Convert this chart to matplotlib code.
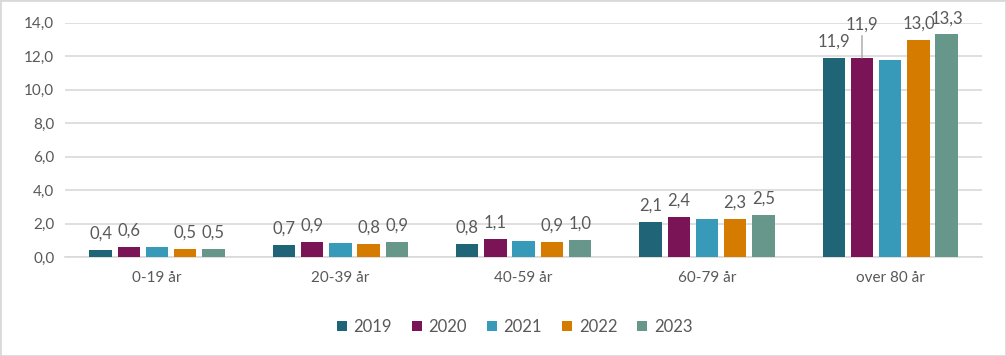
import numpy as np
import matplotlib.pyplot as plt

plt.rcParams['font.family'] = ['Lato', 'DejaVu Sans']

categories = ['0-19 år', '20-39 år', '40-59 år', '60-79 år', 'over 80 år']
years = ['2019', '2020', '2021', '2022', '2023']
values = {
    '2019': [0.4, 0.7, 0.8, 2.1, 11.9],
    '2020': [0.6, 0.9, 1.1, 2.4, 11.9],
    '2021': [0.6, 0.85, 0.95, 2.3, 11.75],
    '2022': [0.5, 0.8, 0.9, 2.3, 13.0],
    '2023': [0.5, 0.9, 1.0, 2.5, 13.3],
}
labelled = ['2019', '2020', '2022', '2023']
colors = ['#1F6477', '#7A1456', '#379AB9', '#D47B00', '#67978A']
text_color = '#595959'

fig = plt.figure(figsize=(10.06, 3.56), dpi=100)
fig.patches.append(plt.Rectangle((0, 0), 1, 1, transform=fig.transFigure,
                                 fill=False, edgecolor='#D9D9D9', linewidth=2))
ax = fig.add_axes([0.065, 0.278, 0.911, 0.658])

x = np.arange(len(categories))
step = 0.154
width = 0.122
for i, yr in enumerate(years):
    pos = x + (i - 2) * step
    bars = ax.bar(pos, values[yr], width, color=colors[i], label=yr, zorder=3)
    if yr in labelled:
        for j, (b, v) in enumerate(zip(bars, values[yr])):
            txt = f'{v:.1f}'.replace('.', ',')
            cx = b.get_x() + b.get_width() / 2
            if yr == '2020' and j == 4:
                # label pushed up with a leader line, as in the original
                ax.annotate(txt, xy=(cx, v), xytext=(cx, v + 1.5),
                            ha='center', va='bottom', fontsize=12, color=text_color,
                            arrowprops=dict(arrowstyle='-', color='#A6A6A6', lw=1,
                                            shrinkA=0, shrinkB=0))
            else:
                ax.annotate(txt, xy=(cx, v), xytext=(0, 6), textcoords='offset points',
                            ha='center', va='bottom', fontsize=12, color=text_color)

ax.set_ylim(0, 14)
ax.set_xlim(-0.5, 4.5)
ax.set_yticks(np.arange(0, 15, 2))
ax.set_yticklabels([f'{t:.1f}'.replace('.', ',') for t in np.arange(0, 15, 2)])
ax.set_xticks(x)
ax.set_xticklabels(categories)
ax.tick_params(axis='both', length=0, colors=text_color, labelsize=11)
ax.tick_params(axis='x', pad=10)
ax.tick_params(axis='y', pad=8)
ax.yaxis.grid(True, color='#D9D9D9', linewidth=1.2, zorder=0)
ax.set_axisbelow(True)
for s in ['top', 'right', 'left']:
    ax.spines[s].set_visible(False)
ax.spines['bottom'].set_color('#D9D9D9')
ax.spines['bottom'].set_linewidth(1.2)

leg = ax.legend(loc='upper center', bbox_to_anchor=(0.49, -0.2), ncol=5, frameon=False,
                fontsize=12, handlelength=0.6, handleheight=0.6, handletextpad=0.4,
                columnspacing=1.2, labelcolor=text_color)

fig.savefig('out.png', dpi=100)
